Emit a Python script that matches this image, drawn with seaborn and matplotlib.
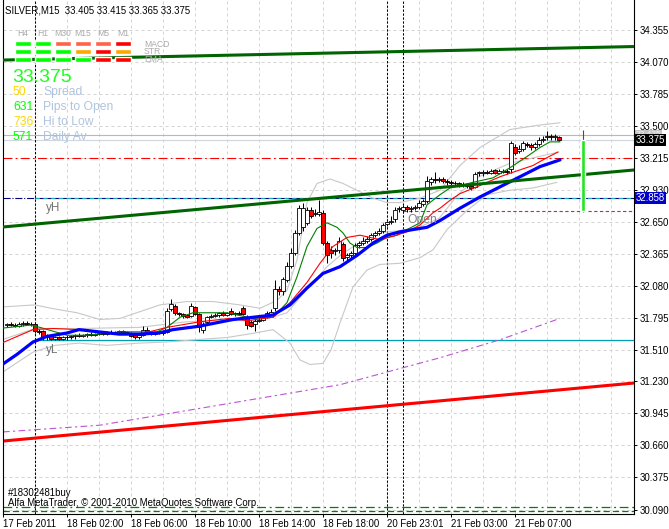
import numpy as np
import pandas as pd
import matplotlib
matplotlib.use("Agg")
import matplotlib.pyplot as plt
import seaborn as sns

# M15 bars, index 0 = first visible bar on the chart
opens = [31.73, 31.74, 31.73, 31.72, 31.74, 31.75, 31.74, 31.74, 31.68, 31.68,
         31.62, 31.63, 31.61, 31.62, 31.61, 31.62, 31.62, 31.63, 31.64, 31.63,
         31.64, 31.65, 31.64, 31.65, 31.66, 31.65, 31.67, 31.66, 31.67, 31.68,
         31.67, 31.66, 31.64, 31.62, 31.64, 31.69, 31.67, 31.65, 31.66, 31.67,
         31.67, 31.87, 31.90, 31.84, 31.83, 31.82, 31.81, 31.89, 31.83, 31.69,
         31.76, 31.80, 31.81, 31.82, 31.84, 31.82, 31.86, 31.83, 31.84, 31.88,
         31.80, 31.76, 31.74, 31.77, 31.78, 31.80, 31.83, 31.88, 32.05, 32.03,
         32.13, 32.26, 32.37, 32.55, 32.60, 32.64, 32.75, 32.72, 32.72, 32.73,
         32.46, 32.40, 32.39, 32.40, 32.45, 32.34, 32.35, 32.37, 32.44, 32.46,
         32.48, 32.50, 32.53, 32.55, 32.57, 32.63, 32.65, 32.67, 32.76, 32.75,
         32.78, 32.76, 32.77, 32.78, 32.81, 32.83, 33.00, 33.03, 33.02, 33.03,
         33.01, 33.00, 32.99, 32.99, 32.98, 32.98, 32.97, 32.96, 33.08, 33.08,
         33.09, 33.08, 33.11, 33.08, 33.09, 33.10, 33.12, 33.31, 33.28, 33.30,
         33.34, 33.33, 33.31, 33.34, 33.38, 33.40, 33.41, 33.40, 33.405]
highs = [31.75, 31.76, 31.75, 31.76, 31.77, 31.77, 31.76, 31.75, 31.70, 31.69,
         31.65, 31.64, 31.63, 31.63, 31.63, 31.64, 31.64, 31.65, 31.66, 31.65,
         31.66, 31.67, 31.66, 31.67, 31.68, 31.68, 31.69, 31.68, 31.69, 31.69,
         31.68, 31.67, 31.65, 31.65, 31.72, 31.71, 31.68, 31.67, 31.68, 31.69,
         31.88, 31.96, 31.92, 31.85, 31.84, 31.83, 31.93, 31.90, 31.84, 31.76,
         31.81, 31.83, 31.84, 31.85, 31.86, 31.85, 31.88, 31.85, 31.86, 31.90,
         31.82, 31.78, 31.79, 31.80, 31.81, 31.86, 31.87, 32.13, 32.08, 32.16,
         32.29, 32.42, 32.58, 32.80, 32.82, 32.78, 32.78, 32.76, 32.84, 32.75,
         32.48, 32.43, 32.42, 32.51, 32.47, 32.37, 32.39, 32.46, 32.48, 32.51,
         32.52, 32.55, 32.57, 32.59, 32.64, 32.66, 32.70, 32.78, 32.79, 32.80,
         32.80, 32.79, 32.80, 32.84, 32.85, 33.06, 33.05, 33.09, 33.05, 33.05,
         33.03, 33.02, 33.01, 33.00, 33.00, 32.99, 32.99, 33.09, 33.10, 33.11,
         33.11, 33.12, 33.12, 33.12, 33.12, 33.12, 33.37, 33.34, 33.33, 33.37,
         33.36, 33.35, 33.36, 33.40, 33.41, 33.46, 33.43, 33.43, 33.415]
lows = [31.71, 31.72, 31.71, 31.71, 31.72, 31.73, 31.72, 31.66, 31.65, 31.60,
        31.60, 31.60, 31.60, 31.60, 31.60, 31.60, 31.61, 31.61, 31.62, 31.62,
        31.62, 31.63, 31.63, 31.64, 31.64, 31.64, 31.65, 31.65, 31.65, 31.66,
        31.65, 31.62, 31.61, 31.61, 31.63, 31.66, 31.64, 31.64, 31.65, 31.64,
        31.66, 31.86, 31.82, 31.81, 31.79, 31.79, 31.80, 31.82, 31.67, 31.66,
        31.75, 31.79, 31.80, 31.80, 31.81, 31.81, 31.82, 31.81, 31.82, 31.82,
        31.70, 31.71, 31.68, 31.76, 31.77, 31.79, 31.82, 31.86, 32.00, 32.00,
        32.11, 32.24, 32.35, 32.53, 32.57, 32.62, 32.68, 32.70, 32.70, 32.44,
        32.28, 32.33, 32.35, 32.37, 32.30, 32.30, 32.32, 32.34, 32.42, 32.44,
        32.46, 32.48, 32.51, 32.53, 32.55, 32.61, 32.63, 32.65, 32.74, 32.73,
        32.74, 32.74, 32.75, 32.76, 32.79, 32.82, 32.98, 32.99, 33.00, 32.99,
        32.98, 32.97, 32.97, 32.96, 32.96, 32.95, 32.93, 32.95, 33.06, 33.06,
        33.07, 33.07, 33.07, 33.07, 33.08, 33.07, 33.08, 33.24, 33.26, 33.28,
        33.31, 33.29, 33.30, 33.32, 33.36, 33.38, 33.38, 33.38, 33.365]
closes = [31.74, 31.73, 31.72, 31.74, 31.75, 31.74, 31.74, 31.68, 31.67, 31.62,
          31.63, 31.61, 31.62, 31.61, 31.62, 31.62, 31.63, 31.64, 31.63, 31.64,
          31.65, 31.64, 31.65, 31.66, 31.65, 31.67, 31.66, 31.67, 31.68, 31.67,
          31.66, 31.63, 31.62, 31.64, 31.69, 31.67, 31.65, 31.66, 31.67, 31.66,
          31.86, 31.92, 31.84, 31.83, 31.81, 31.80, 31.90, 31.83, 31.71, 31.74,
          31.80, 31.81, 31.82, 31.84, 31.82, 31.84, 31.83, 31.84, 31.83, 31.83,
          31.73, 31.72, 31.77, 31.78, 31.79, 31.84, 31.85, 32.05, 32.03, 32.14,
          32.26, 32.37, 32.55, 32.77, 32.77, 32.75, 32.70, 32.73, 32.74, 32.46,
          32.35, 32.37, 32.40, 32.48, 32.33, 32.35, 32.37, 32.44, 32.46, 32.48,
          32.50, 32.53, 32.55, 32.57, 32.62, 32.65, 32.66, 32.75, 32.77, 32.78,
          32.76, 32.77, 32.78, 32.82, 32.83, 33.01, 33.03, 33.02, 33.03, 33.01,
          33.00, 32.99, 32.99, 32.98, 32.98, 32.97, 32.95, 33.07, 33.09, 33.09,
          33.08, 33.10, 33.08, 33.10, 33.10, 33.09, 33.35, 33.26, 33.30, 33.35,
          33.33, 33.31, 33.34, 33.38, 33.39, 33.41, 33.40, 33.41, 33.375]

# indicator lines (bar position, price)
blue_x = [-2, 2.5, 6.5, 10, 15, 18, 23, 28, 33, 38, 41.5, 48, 56.5, 61.5, 66.5, 70.75,
          75, 79, 83.25, 87.5, 91.5, 95, 98.25, 101.5, 105, 108.25, 113.25, 118.25,
          123.25, 128.25, 133.25, 138.25]
blue_y = [31.36, 31.47, 31.58, 31.63, 31.66, 31.69, 31.67, 31.65, 31.65, 31.66, 31.69,
          31.72, 31.78, 31.80, 31.82, 31.91, 32.06, 32.19, 32.25, 32.35, 32.46, 32.53,
          32.56, 32.58, 32.60, 32.66, 32.77, 32.87, 32.96, 33.05, 33.14, 33.20]
red_x = [-2, 6.5, 11.5, 18.25, 23.25, 33.25, 40, 48.25, 55.75, 60, 66.5, 70.75, 75,
         78.25, 81.5, 85, 88.25, 90.75, 93.25, 96.5, 100, 103.25, 106.5, 108.25, 110.75,
         113.25, 117.5, 120, 123.25, 126.5, 131.5, 135, 137.75]
red_y = [31.56, 31.69, 31.70, 31.69, 31.66, 31.65, 31.71, 31.76, 31.79, 31.77, 31.80,
         31.93, 32.11, 32.28, 32.43, 32.51, 32.53, 32.51, 32.49, 32.52, 32.56, 32.62,
         32.73, 32.77, 32.84, 32.90, 32.96, 33.00, 33.05, 33.09, 33.15, 33.22, 33.27]
green_x = [-2, 5.75, 8.25, 15, 20, 28.25, 37.5, 40, 43.25, 46.5, 55, 61.5, 65, 66.5, 70,
           72.5, 75, 77.5, 80, 82.5, 84, 85.75, 87.5, 90, 92.5, 95, 97.5, 100, 103.25,
           105, 108.25, 110.75, 116.5, 121.5, 125.75, 130, 133.25, 135.75, 138.25]
green_y = [31.70, 31.73, 31.71, 31.64, 31.64, 31.67, 31.67, 31.71, 31.80, 31.84, 31.84,
           31.79, 31.80, 31.80, 31.93, 32.16, 32.43, 32.59, 32.64, 32.60, 32.55, 32.46,
           32.42, 32.42, 32.46, 32.51, 32.53, 32.58, 32.64, 32.80, 32.89, 32.95, 33.00,
           33.04, 33.13, 33.23, 33.31, 33.36, 33.36]
upper_x = [-2, 7, 11, 17.5, 23.25, 28.25, 33.25, 38.25, 45, 51.5, 58.25, 63.25, 67.5, 70,
           72.5, 75, 77.5, 80.75, 84, 88, 91.5, 95, 98.25, 103.25, 108.25, 113.25, 118.25,
           125.75, 133.25, 138.25]
upper_y = [31.89, 31.91, 31.88, 31.84, 31.78, 31.79, 31.85, 31.91, 31.94, 31.94, 31.91,
           31.88, 31.95, 32.04, 32.31, 32.82, 32.99, 33.03, 32.99, 32.92, 32.86, 32.82,
           32.82, 32.86, 32.93, 33.15, 33.31, 33.47, 33.51, 33.53]
mid_x = [-2, 7, 18, 33, 45, 55, 62, 66.5, 70, 75, 80, 84, 88, 93, 98, 103, 108, 113, 118,
         125.75, 133, 138]
mid_y = [31.59, 31.70, 31.70, 31.71, 31.76, 31.77, 31.77, 31.80, 31.84, 32.05, 32.25,
         32.37, 32.46, 32.55, 32.57, 32.60, 32.68, 32.90, 33.05, 33.17, 33.23, 33.27]
lower_x = [-2, 6.5, 12, 18, 25, 33, 40, 47, 55, 62, 66.5, 70.75, 73.25, 75.75, 79, 81,
           83.25, 86.5, 90, 93.25, 98.25, 103.25, 106.5, 110, 115, 120, 125.75, 131.5, 137.5]
lower_y = [31.29, 31.49, 31.55, 31.57, 31.55, 31.57, 31.58, 31.60, 31.62, 31.66, 31.69,
           31.57, 31.42, 31.38, 31.39, 31.51, 31.75, 32.07, 32.22, 32.27, 32.28, 32.33,
           32.40, 32.58, 32.75, 32.89, 32.93, 32.95, 33.00]
purple_x = [-1, 23.25, 58.25, 83.25, 108.25, 123.25, 138.25]
purple_y = [30.78, 30.84, 31.05, 31.20, 31.44, 31.60, 31.79]

# trend lines across the whole window
trend_x = [-1, 156.75]
trend_top_y = [34.088, 34.208]
trend_mid_y = [32.603, 33.110]
trend_red_y = [30.699, 31.215]

# horizontal levels
bid = 33.375
ask = 33.425
day_open = 32.744
y_high = 32.858
y_low = 31.598
red_level = 33.215
green_level_1 = 30.112
green_level_2 = 30.076
separators = [7, 95, 99]

# daily candle on the right
daily_x = 144
daily_o, daily_h, daily_l, daily_c = 32.744, 33.47, 32.734, 33.375

price_ticks = [34.355, 34.070, 33.785, 33.500, 33.215, 32.930, 32.650, 32.365,
               32.080, 31.795, 31.510, 31.230, 30.945, 30.660, 30.375, 30.090]
time_ticks = [-1, 15, 31, 47, 63, 79, 95, 111, 127]
time_labels = ["17 Feb 2011", "18 Feb 02:00", "18 Feb 06:00", "18 Feb 10:00",
               "18 Feb 14:00", "18 Feb 18:00", "20 Feb 23:01", "21 Feb 03:00",
               "21 Feb 07:00"]

# signal panel
tf_labels = ["H4", "H1", "M30", "M15", "M5", "M1"]
sig_names = ["MACD", "STR", "EMA"]
sig_colors = [["#00ff00", "#00ff00", "#ff6347", "#ff6347", "#ff6347", "#ff0000"],
              ["#00ff00", "#00ff00", "#00ff00", "#ffa500", "#ff0000", "#ffa500"],
              ["#00ff00", "#00ff00", "#00ff00", "#00ff00", "#ff0000", "#ff0000"]]
info_values = ["50", "631", "736", "571"]
info_names = ["Spread", "Pips to Open", "Hi to Low", "Daily Av"]
info_colors = ["#ffd700", "#00ff00", "#ffd700", "#00ff00"]

W, H = 669, 529

sns.set_theme(style="white")
plt.rcParams['font.family'] = ['Liberation Sans', 'DejaVu Sans']

fig = plt.figure(figsize=(W / 100, H / 100), dpi=100)
fig.patch.set_facecolor("white")
ax = fig.add_axes([3 / W, 15 / H, 631 / W, 514 / H])
ax.set_facecolor("white")
ax.set_axisbelow(True)

ax.set_xlim(-1, 156.75)
ax.set_ylim(30.050, 34.622)

# grid
ax.set_xticks(time_ticks)
ax.set_xticklabels(time_labels, ha="left")
ax.set_xticks(np.arange(-1, 157, 8), minor=True)
ax.set_yticks(price_ticks)
ax.set_yticklabels([f"{p:.3f}" for p in price_ticks])
ax.grid(True, which="both", color="#d4d4d4", linestyle=(0, (3, 3)), linewidth=0.72)

for s in separators:
    ax.axvline(s, color="black", linestyle=(0, (2.2, 1.6)), linewidth=0.75, zorder=2)

# horizontal levels
ax.axhline(ask, color="#b8b8b8", linewidth=0.8, zorder=1.5)
ax.axhline(bid, color="#d0d6e0", linewidth=0.8, zorder=1.5)
ax.axhline(red_level, color="#ff0000", linestyle=(0, (8, 3, 1.5, 3)), linewidth=0.8, zorder=1.5)
ax.plot([-1, 7], [y_high, y_high], color="#000080", linestyle="-.", linewidth=0.8, zorder=1.5)
ax.plot([7, 156.75], [y_high, y_high], color="#000080", linewidth=0.8, zorder=1.5)
ax.plot([7, 156.75], [y_high, y_high], color="#20a8b8", linestyle=(0, (4, 3)), linewidth=0.8, zorder=1.6)
ax.plot([7, 156.75], [y_low, y_low], color="#00a0b4", linewidth=0.9, zorder=1.5)
ax.plot([99, 156.75], [day_open, day_open], color="#c0208a", linestyle=(0, (3, 2.2)), linewidth=0.8, zorder=1.5)
ax.axhline(green_level_1, color="#008000", linestyle=(0, (7, 3, 1.5, 3)), linewidth=0.9, zorder=1.5)
ax.axhline(green_level_2, color="#008000", linestyle=(0, (5, 2.5)), linewidth=0.9, zorder=1.5)

# bollinger bands
for bx, by in [(upper_x, upper_y), (mid_x, mid_y), (lower_x, lower_y)]:
    sns.lineplot(x=bx, y=by, ax=ax, color="#c8c8c8", linewidth=0.8,
                 estimator=None, sort=False, zorder=2)

sns.lineplot(x=purple_x, y=purple_y, ax=ax, color="#ba55d3", linewidth=0.8,
             linestyle=(0, (6, 3, 2, 3)), estimator=None, sort=False, zorder=2)
sns.lineplot(x=trend_x, y=trend_red_y, ax=ax, color="#ff0000", linewidth=2.2,
             estimator=None, sort=False, zorder=2.5)

# candles
bars = pd.DataFrame({"o": opens, "h": highs, "l": lows, "c": closes})
bars["x"] = np.arange(len(bars))
bars["up"] = bars["c"] >= bars["o"]
ax.vlines(bars["x"], bars["l"], bars["h"], color="black", linewidth=0.72, zorder=3)
ax.bar(bars["x"], bars["c"] - bars["o"], bottom=bars["o"], width=0.78,
       color=np.where(bars["up"], "white", "#ff0000"), edgecolor="black",
       linewidth=0.6, zorder=3.1)

# moving averages
sns.lineplot(x=green_x, y=green_y, ax=ax, color="#008000", linewidth=0.8,
             estimator=None, sort=False, zorder=4)
sns.lineplot(x=red_x, y=red_y, ax=ax, color="#ff0000", linewidth=0.8,
             estimator=None, sort=False, zorder=4)
sns.lineplot(x=blue_x, y=blue_y, ax=ax, color="#0000ff", linewidth=2.3,
             estimator=None, sort=False, zorder=4.2)

sns.lineplot(x=trend_x, y=trend_top_y, ax=ax, color="#006400", linewidth=2.2,
             estimator=None, sort=False, zorder=5)
sns.lineplot(x=trend_x, y=trend_mid_y, ax=ax, color="#006400", linewidth=2.2,
             estimator=None, sort=False, zorder=5)

# daily range bar
ax.vlines(daily_x, daily_l, daily_h, color="#3a5a3a", linewidth=0.8, zorder=5)
ax.bar(daily_x, daily_c - daily_o, bottom=daily_o, width=1.0, color="#22e622", zorder=5.1)

# axes look
for side in ["left", "right", "bottom"]:
    ax.spines[side].set_color("black")
    ax.spines[side].set_linewidth(0.8)
ax.spines["top"].set_visible(False)
ax.tick_params(axis="y", left=False, right=True, labelleft=False, labelright=True,
               length=2.5, width=0.7, pad=1.3, labelsize=6.9, colors="black")
ax.tick_params(axis="x", which="major", bottom=True, length=2.5, width=0.7, pad=1.2,
               labelsize=6.9, colors="black")
ax.tick_params(axis="x", which="minor", bottom=False, length=0)
ax.set_xlabel("")
ax.set_ylabel("")

# price boxes on the right scale
ytr = ax.get_yaxis_transform()
ax.text(1.003, ask, "33.425", transform=ytr, ha="left", va="center", fontsize=6.0,
        color="#f0f0f0", clip_on=False, zorder=0.3,
        bbox=dict(boxstyle="square,pad=0.08", fc="#c4c4c4", ec="none"))
ax.text(1.003, bid, "33.375", transform=ytr, ha="left", va="center", fontsize=6.9,
        color="white", clip_on=False, zorder=6,
        bbox=dict(boxstyle="square,pad=0.1", fc="black", ec="none"))
ax.text(1.003, y_high, "32.858", transform=ytr, ha="left", va="center", fontsize=6.9,
        color="white", clip_on=False, zorder=6,
        bbox=dict(boxstyle="square,pad=0.1", fc="#0000cd", ec="none"))


def px(x, y):
    return x / W, 1 - y / H


fig.text(*px(5, 13.5), "SILVER,M15  33.405 33.415 33.365 33.375", fontsize=6.9,
         color="black", va="baseline")

# signal panel blocks
ax_sig = fig.add_axes([13 / W, 1 - 63.5 / H, 120 / W, 24 / H])
ax_sig.set_xlim(0, 6)
ax_sig.set_ylim(3, 0)
ax_sig.axis("off")
ax_sig.patch.set_alpha(0)
for r, row in enumerate(sig_colors):
    ax_sig.bar(np.arange(6) + 0.5, 0.625, bottom=r + 0.1875, width=0.8, color=row)

for k, lab in enumerate(tf_labels):
    fig.text(*px(23 + 20 * k, 36), lab, fontsize=6.2, color="#aaaaaa", ha="center", va="baseline")
for r, lab in enumerate(sig_names):
    fig.text(*px(144, 46.5 + 8 * r), lab, fontsize=6.2, color="#aaaaaa", va="baseline")

fig.text(*px(12, 82), "33.375", fontsize=14, color="#1eff1e", va="baseline")
for r in range(4):
    yb = 95 + 15 * r
    fig.text(*px(13, yb), info_values[r], fontsize=8.7, color=info_colors[r], va="baseline")
    fig.text(*px(43, yb), info_names[r], fontsize=8.7, color="#b0c4de", va="baseline")

fig.text(*px(46, 211), "yH", fontsize=8.4, color="#707070", va="baseline")
fig.text(*px(46, 353), "yL", fontsize=8.4, color="#707070", va="baseline")
fig.text(*px(407, 223), "Open", fontsize=8.7, color="#808080", va="baseline")

fig.text(*px(8, 496), "#18302481buy", fontsize=6.9, color="black", va="baseline")
fig.text(*px(8, 506), "Alfa MetaTrader, \u00a9 2001-2010 MetaQuotes Software Corp.",
         fontsize=6.9, color="black", va="baseline")

fig.savefig("out.png", dpi=100, facecolor="white")
